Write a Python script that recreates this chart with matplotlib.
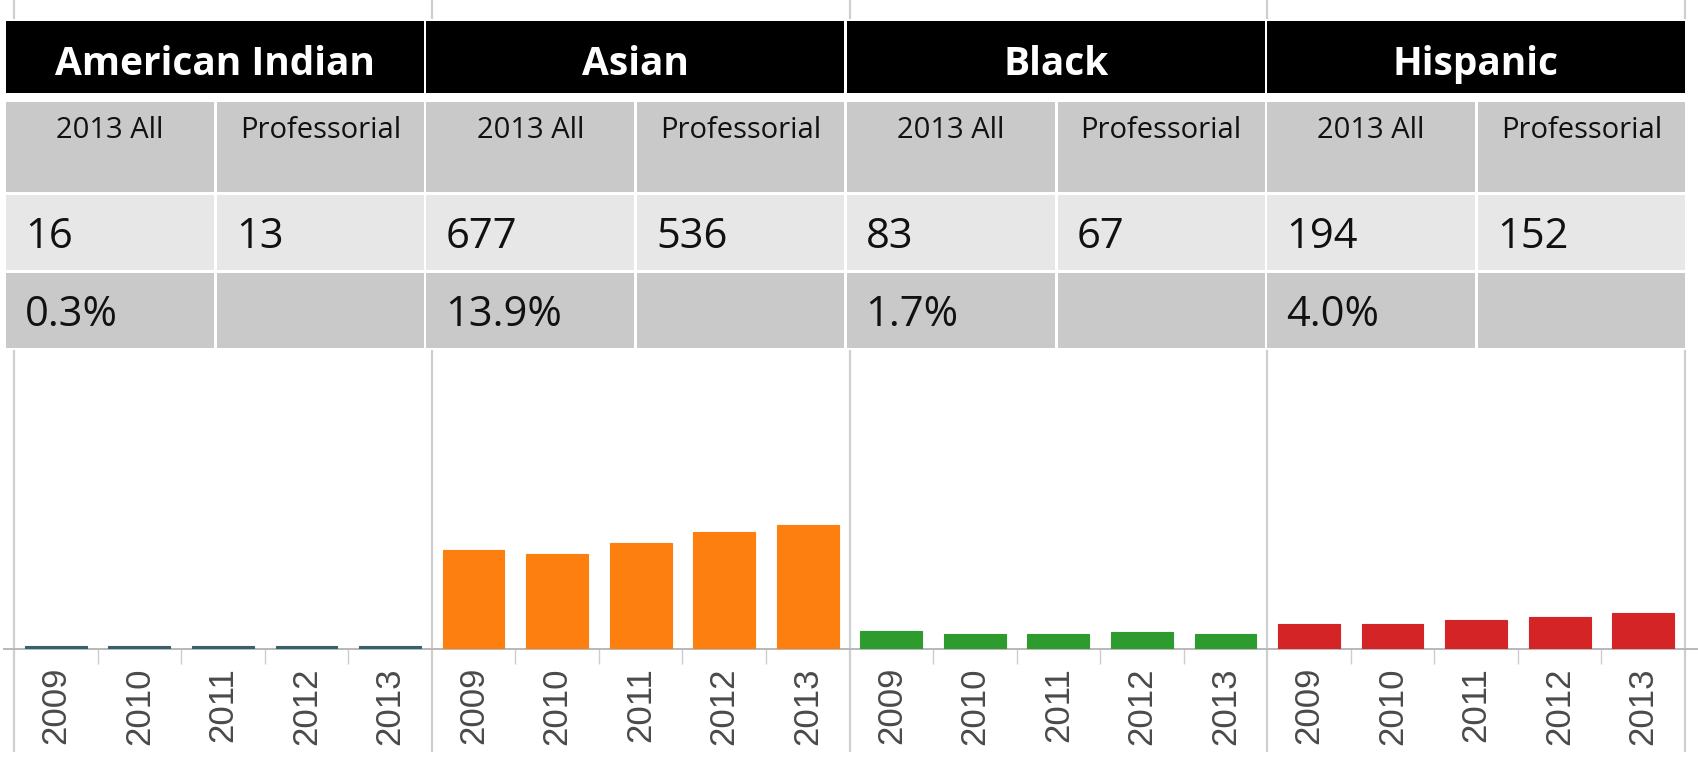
import numpy as np
import matplotlib
matplotlib.use("Agg")
import matplotlib.pyplot as plt
from matplotlib.patches import Rectangle
from matplotlib.ticker import FixedLocator

# data
groups = ["American Indian", "Asian", "Black", "Hispanic"]
years = ["2009", "2010", "2011", "2012", "2013"]
all_2013 = [16, 677, 83, 194]
professorial = [13, 536, 67, 152]
share = ["0.3%", "13.9%", "1.7%", "4.0%"]

american_indian = [14, 14, 15, 15, 16]
asian = [540, 519, 579, 639, 677]
black = [96, 83, 82, 95, 83]
hispanic = [137, 136, 158, 176, 194]
series = [american_indian, asian, black, hispanic]
colors = ["#37616b", "#fc7f10", "#2e9b2e", "#d42426"]

W, H = 1698, 764
fig = plt.figure(figsize=(W / 100, H / 100), dpi=100)
fig.patch.set_facecolor("white")

# bar chart, one axes, 20 slots
ax = fig.add_axes([14 / W, (H - 649) / H, (1685 - 14) / W, 299 / H])
ax.set_zorder(1)
n = len(years)
for g, vals in enumerate(series):
    x = np.arange(n) + g * n
    ax.bar(x, vals, width=0.74, color=colors[g], edgecolor=colors[g],
           linewidth=0.8, zorder=3)

ax.set_xlim(-0.5, len(groups) * n - 0.5)
ax.set_ylim(0, 1633)
ax.set_facecolor("none")
for s in ax.spines.values():
    s.set_visible(False)
ax.set_yticks([])

# group separators run full height, behind the table
for g in range(len(groups) + 1):
    ax.axvline(g * n - 0.5, ymin=-0.34, ymax=2.25, color="#cfcfcf", lw=1.6,
               clip_on=False, zorder=1)
ax.axhline(0, xmin=-0.006, xmax=1.01, color="#b8b8b8", lw=1.4,
           clip_on=False, zorder=2)

ax.set_xticks(np.arange(len(groups) * n))
ax.set_xticklabels(years * len(groups), rotation=90, family="Liberation Sans",
                   fontsize=25, color="#4a4a4a")
ax.tick_params(axis="x", which="major", length=0, pad=13)
ax.xaxis.set_minor_locator(FixedLocator([i + 0.5 for i in range(len(groups) * n - 1)
                                         if (i + 1) % n != 0]))
ax.tick_params(axis="x", which="minor", length=11, width=1, color="#cccccc")

# table on top, pixel coordinates
tab = fig.add_axes([0, 0, 1, 1])
tab.set_zorder(3)
tab.set_xlim(0, W)
tab.set_ylim(H, 0)
tab.axis("off")
tab.patch.set_visible(False)

tab.add_patch(Rectangle((0, 19), W, 331, facecolor="white", edgecolor="none"))

gx0, gstep, gw = 6, 420.33, 418
sub_w = 208
rows = [(102, 192, "#c9c9c9"), (195, 270, "#e7e7e7"), (273, 348, "#c9c9c9")]

for g, name in enumerate(groups):
    left = gx0 + g * gstep
    tab.add_patch(Rectangle((left, 21), gw, 72, facecolor="black", edgecolor="none"))
    tab.text(left + gw / 2, 75, name, color="white", fontsize=28, fontweight="bold",
             family="Open Sans", ha="center", va="baseline")
    cells = [(left, sub_w), (left + sub_w + 3, gw - sub_w - 3)]
    for top, bot, c in rows:
        for cx, cw in cells:
            tab.add_patch(Rectangle((cx, top), cw, bot - top, facecolor=c,
                                    edgecolor="none"))
    tab.text(cells[0][0] + cells[0][1] / 2, 138, "2013 All", fontsize=21,
             family="Open Sans", ha="center", va="baseline", color="#111111")
    tab.text(cells[1][0] + cells[1][1] / 2, 138, "Professorial", fontsize=21,
             family="Open Sans", ha="center", va="baseline", color="#111111")
    tab.text(cells[0][0] + 19, 248, str(all_2013[g]), fontsize=30,
             family="Open Sans", ha="left", va="baseline", color="#111111")
    tab.text(cells[1][0] + 19, 248, str(professorial[g]), fontsize=30,
             family="Open Sans", ha="left", va="baseline", color="#111111")
    tab.text(cells[0][0] + 19, 326, share[g], fontsize=30,
             family="Open Sans", ha="left", va="baseline", color="#111111")

fig.savefig("out.png", dpi=100)
